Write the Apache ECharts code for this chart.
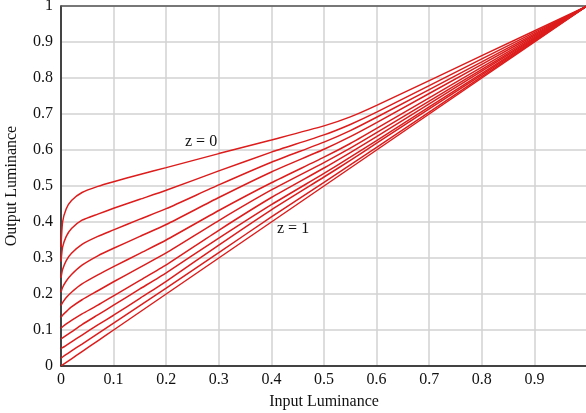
<!DOCTYPE html>
<html><head><meta charset="utf-8">
<script src="https://cdn.jsdelivr.net/npm/echarts@6/dist/echarts.min.js"></script>
<style>html,body{margin:0;padding:0;background:#fff}#c{width:586px;height:413px}</style>
</head><body><div id="c"></div>
<script>
var inputX = [0, 0.003, 0.01, 0.02, 0.04, 0.07, 0.1, 0.15, 0.2, 0.3, 0.4, 0.5, 0.55, 0.6, 0.8, 1];
var zLevels = ['0','0.1','0.2','0.3','0.4','0.5','0.6','0.7','0.8','0.9','1'];
var outZ00 = [0.33, 0.40, 0.437, 0.46, 0.482, 0.499, 0.512, 0.532, 0.551, 0.590, 0.628, 0.667, 0.692, 0.724, 0.862, 1];
var outZ01 = [0.29, 0.33, 0.36, 0.382, 0.405, 0.422, 0.438, 0.463, 0.488, 0.542, 0.594, 0.642, 0.671, 0.705, 0.853, 1];
var outZ02 = [0.245, 0.268, 0.293, 0.313, 0.338, 0.360, 0.378, 0.408, 0.437, 0.503, 0.566, 0.622, 0.654, 0.691, 0.845, 1];
var outZ03 = [0.205, 0.218, 0.236, 0.254, 0.280, 0.306, 0.327, 0.360, 0.393, 0.468, 0.539, 0.602, 0.637, 0.676, 0.838, 1];
var outZ04 = [0.168, 0.176, 0.190, 0.205, 0.228, 0.253, 0.276, 0.313, 0.350, 0.432, 0.509, 0.580, 0.618, 0.660, 0.830, 1];
var outZ05 = [0.135, 0.141, 0.151, 0.164, 0.184, 0.209, 0.234, 0.274, 0.314, 0.404, 0.489, 0.565, 0.605, 0.648, 0.824, 1];
var outZ06 = [0.105, 0.109, 0.117, 0.127, 0.145, 0.169, 0.195, 0.238, 0.281, 0.377, 0.468, 0.550, 0.593, 0.637, 0.819, 1];
var outZ07 = [0.075, 0.078, 0.085, 0.095, 0.115, 0.142, 0.169, 0.214, 0.259, 0.355, 0.448, 0.535, 0.580, 0.626, 0.813, 1];
var outZ08 = [0.048, 0.051, 0.057, 0.067, 0.086, 0.114, 0.141, 0.188, 0.235, 0.336, 0.434, 0.525, 0.571, 0.619, 0.809, 1];
var outZ09 = [0.022, 0.025, 0.032, 0.042, 0.061, 0.090, 0.119, 0.168, 0.216, 0.315, 0.414, 0.510, 0.559, 0.607, 0.804, 1];
var outZ10 = [0, 0.003, 0.01, 0.02, 0.04, 0.07, 0.1, 0.15, 0.2, 0.3, 0.4, 0.5, 0.55, 0.6, 0.8, 1];
var allOut = [outZ00, outZ01, outZ02, outZ03, outZ04, outZ05, outZ06, outZ07, outZ08, outZ09, outZ10];

var FONT = '"Liberation Serif", "DejaVu Serif", serif';
var series = allOut.map(function (ys, i) {
  return {
    name: 'z = ' + zLevels[i],
    type: 'line',
    showSymbol: false,
    smooth: 0.2,
    lineStyle: { color: '#dd1c1c', width: 1.5 },
    data: inputX.map(function (x, j) { return [x, ys[j]]; }),
    z: 5
  };
});

var chart = echarts.init(document.getElementById('c'), null, { renderer: 'canvas' });
chart.setOption({
  animation: false,
  backgroundColor: '#fff',
  grid: { left: 61, top: 6, width: 526, height: 360, containLabel: false, outerBoundsMode: 'none' },
  xAxis: [{
    type: 'value', min: 0, max: 1, interval: 0.1,
    name: 'Input Luminance', nameLocation: 'middle', nameGap: 28,
    nameTextStyle: { fontFamily: FONT, fontSize: 16, color: '#111' },
    axisLine: { show: true, lineStyle: { color: '#111', width: 1.5 } },
    axisTick: { show: false },
    axisLabel: { fontFamily: FONT, fontSize: 16, color: '#111', margin: 6,
      formatter: function (v) { return v === 1 ? '' : String(Math.round(v * 10) / 10); } },
    splitLine: { show: true, lineStyle: { color: '#d2d2d2', width: 1.5 } }
  }, {
    type: 'value', min: 0, max: 1, position: 'top',
    axisLine: { show: true, onZero: false, lineStyle: { color: '#555', width: 1.5 } },
    axisTick: { show: false }, axisLabel: { show: false }, splitLine: { show: false }
  }],
  yAxis: {
    type: 'value', min: 0, max: 1, interval: 0.1,
    name: 'Output Luminance', nameLocation: 'middle', nameGap: 41,
    nameTextStyle: { fontFamily: FONT, fontSize: 16, color: '#111' },
    axisLine: { show: true, lineStyle: { color: '#111', width: 1.5 } },
    axisTick: { show: false },
    axisLabel: { fontFamily: FONT, fontSize: 16, color: '#111', margin: 8,
      formatter: function (v) { return String(Math.round(v * 10) / 10); } },
    splitLine: { show: true, lineStyle: { color: '#d2d2d2', width: 1.5 } }
  },
  graphic: [
    { type: 'text', left: 185, top: 134, style: { text: 'z = 0', font: '16px ' + FONT, fill: '#111' } },
    { type: 'text', left: 277, top: 221, style: { text: 'z = 1', font: '16px ' + FONT, fill: '#111' } }
  ],
  series: series
});
</script></body></html>
